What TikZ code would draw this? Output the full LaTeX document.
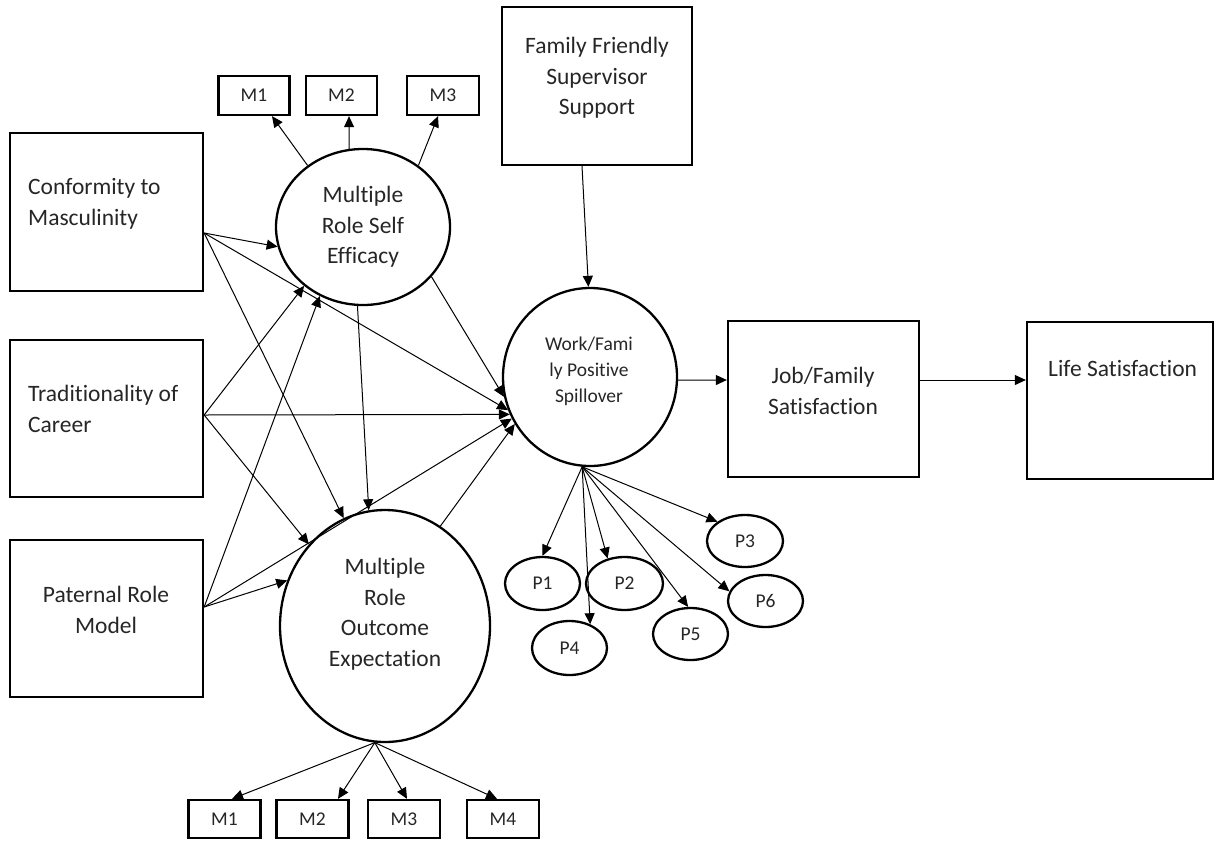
\documentclass[tikz,border=0pt]{standalone}
\usepackage{fontspec}
\setmainfont{Carlito}[Ligatures=NoCommon]
\usetikzlibrary{arrows.meta,shapes.geometric}
\begin{document}
\begin{tikzpicture}[x=1pt,y=-1pt,
  bx/.style={draw, rectangle, line width=2.3pt, inner sep=0pt},
  lat/.style={draw, ellipse, line width=2.3pt, inner sep=0pt},
  big/.style={font=\fontsize{23.5}{30.5}\selectfont, inner sep=0pt, text=black!85},
  mid/.style={font=\fontsize{19.5}{26}\selectfont, inner sep=0pt, align=center, text=black!85},
  sml/.style={font=\fontsize{19.5}{22}\selectfont, text=black!85},
  arr/.style={-{Triangle[length=11pt,width=10pt]}, line width=1pt}]
\useasboundingbox (0,0) rectangle (1217,841);

% exogenous boxes
\node[bx, minimum width=193pt, minimum height=158pt] (conf) at (106.5,212) {};
\node[big, anchor=west, align=left] (confT) at (28,204) {Conformity to\\Masculinity};
\node[bx, minimum width=193pt, minimum height=157pt] (trad) at (106.5,418.5) {};
\node[big, anchor=west, align=left] (tradT) at (28,409) {Traditionality of\\Career};
\node[bx, minimum width=193pt, minimum height=157pt] (pat) at (106.5,618.5) {};
\node[big, align=center] (patT) at (106,610) {Paternal Role\\Model};
\node[bx, minimum width=190pt, minimum height=158pt] (fam) at (597,86) {};
\node[big, align=center] (famT) at (597,78) {Family Friendly\\Supervisor\\Support};
\node[bx, minimum width=191pt, minimum height=156pt] (job) at (823.5,399) {};
\node[big, align=center] (jobT) at (823,391) {Job/Family\\Satisfaction};
\node[bx, minimum width=186pt, minimum height=157pt] (life) at (1120,400.5) {};
\node[big, anchor=west] (lifeT) at (1048,368) {Life Satisfaction};

% latent variables
\node[lat, minimum width=174pt, minimum height=156pt] (se) at (363,227) {};
\node[big, align=center] (seT) at (363,227) {Multiple\\Role Self\\Efficacy};
\node[lat, minimum width=174pt, minimum height=178pt] (sp) at (590,377) {};
\node[mid] (spT) at (589,371) {Work/Fami\\ly Positive\\Spillover};
\node[lat, minimum width=210pt, minimum height=232pt] (oe) at (385,626) {};
\node[big, align=center] (oeT) at (385,614) {Multiple\\Role\\Outcome\\Expectation};

% indicators
\node[bx, sml, minimum width=71pt, minimum height=39pt] (m1t) at (254,95.5) {M1};
\node[bx, sml, minimum width=71pt, minimum height=39pt] (m2t) at (341.5,95.5) {M2};
\node[bx, sml, minimum width=72pt, minimum height=39pt] (m3t) at (443,95.5) {M3};
\node[bx, sml, minimum width=72pt, minimum height=38pt] (m1b) at (224.5,819) {M1};
\node[bx, sml, minimum width=72pt, minimum height=38pt] (m2b) at (312.5,819) {M2};
\node[bx, sml, minimum width=72pt, minimum height=38pt] (m3b) at (404,819) {M3};
\node[bx, sml, minimum width=72pt, minimum height=38pt] (m4b) at (503,819) {M4};
\node[lat, sml, minimum width=75pt, minimum height=53pt] (p1) at (542.5,583.5) {P1};
\node[lat, sml, minimum width=77pt, minimum height=53pt] (p2) at (624.5,583.5) {P2};
\node[lat, sml, minimum width=76pt, minimum height=52pt] (p3) at (745,541) {P3};
\node[lat, sml, minimum width=75pt, minimum height=54pt] (p4) at (569.5,648) {P4};
\node[lat, sml, minimum width=75pt, minimum height=52pt] (p5) at (690.5,634) {P5};
\node[lat, sml, minimum width=75pt, minimum height=52pt] (p6) at (765.5,601) {P6};

% paths from exogenous variables
\draw[arr] ([yshift=-21pt]conf.east) -- (se.193);
\draw[arr] ([yshift=-21pt]conf.east) -- (sp.202);
\draw[arr] ([yshift=-21pt]conf.east) -- (oe.111);
\draw[arr] ([yshift=3.5pt]trad.east) -- (se.225);
\draw[arr] ([yshift=3.5pt]trad.east) -- (sp.205);
\draw[arr] ([yshift=3.5pt]trad.east) -- (oe.133);
\draw[arr] ([yshift=11.5pt]pat.east) -- (se.238);
\draw[arr] ([yshift=11.5pt]pat.east) -- (sp.208);
\draw[arr] ([yshift=11.5pt]pat.east) -- (oe.155);

% structural paths
\draw[arr] (se.266) -- (oe.98);
\draw[arr] (se.324) -- (sp.193);
\draw[arr] (oe.61) -- (sp.212);
\draw[arr] ([xshift=-15pt]fam.south) -- (sp.91);
\draw[arr] (sp.358) -- ([yshift=19pt]job.west);
\draw[arr] ([yshift=19pt]job.east) -- ([yshift=20.5pt]life.west);

% measurement paths
\draw[arr] (se.132) -- ([xshift=18pt]m1t.south);
\draw[arr] (se.100) -- ([xshift=7.5pt]m2t.south);
\draw[arr] (se.48) -- ([xshift=-5pt]m3t.south);
\draw[arr] (oe.265) -- ([xshift=7.5pt]m1b.north);
\draw[arr] (oe.265) -- ([xshift=25.5pt]m2b.north);
\draw[arr] (oe.265) -- ([xshift=3pt]m3b.north);
\draw[arr] (oe.265) -- ([xshift=-6pt]m4b.north);
\draw[arr] (sp.265) -- (p1.north);
\draw[arr] (sp.265) -- (p2.124);
\draw[arr] (sp.265) -- (p3.145);
\draw[arr] (sp.265) -- (p4.49);
\draw[arr] (sp.265) -- (p5.95);
\draw[arr] (sp.265) -- (p6.165);
\end{tikzpicture}
\end{document}
